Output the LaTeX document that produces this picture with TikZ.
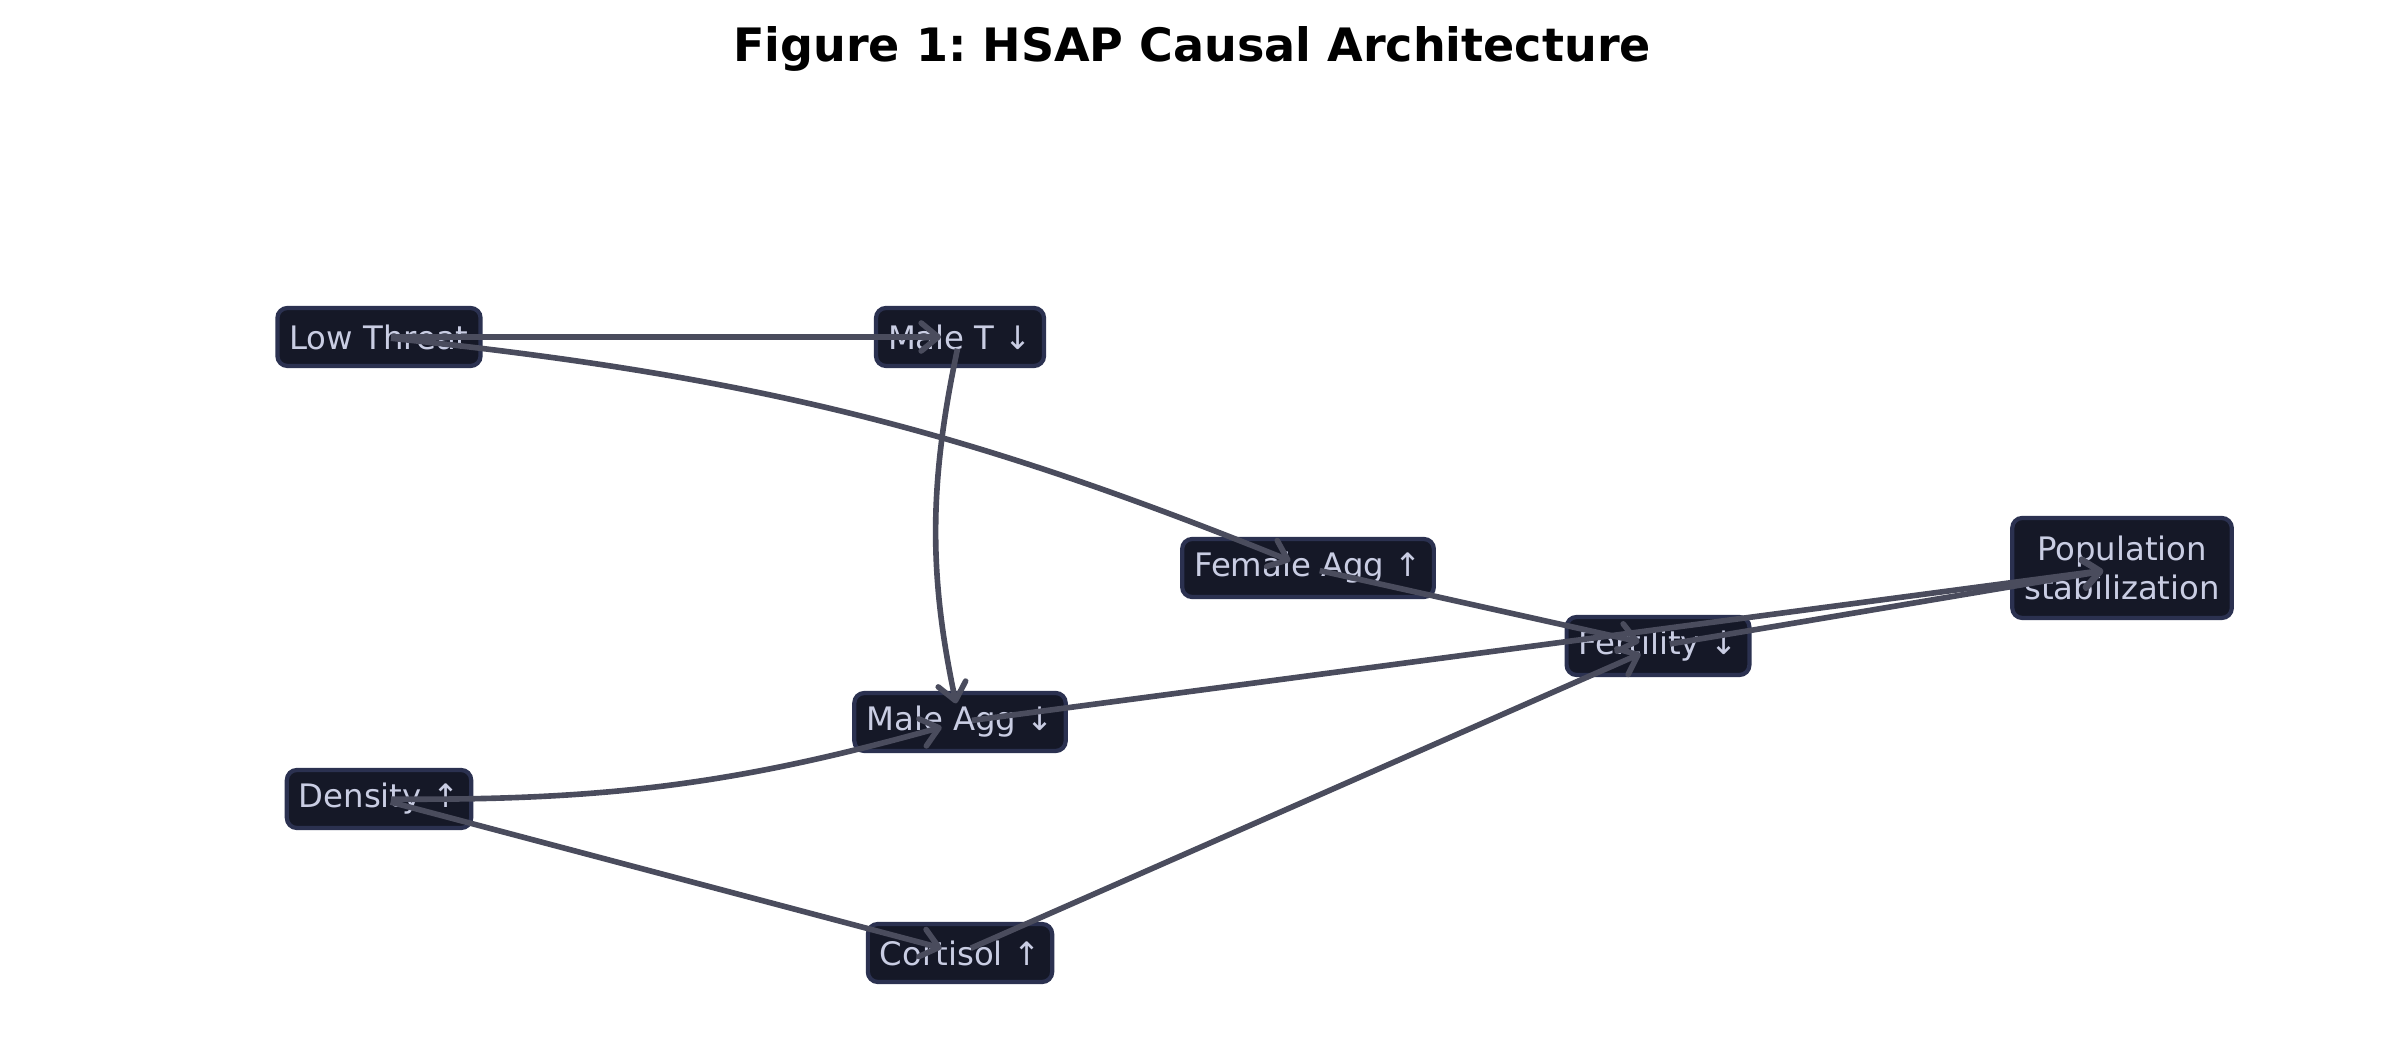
\documentclass[tikz,border=0pt]{standalone}
\usepackage{fontspec}
\setmainfont{DejaVu Sans}
\usetikzlibrary{arrows.meta}
\frenchspacing

\definecolor{boxfill}{HTML}{151827}
\definecolor{boxline}{HTML}{2B3150}
\definecolor{boxtext}{HTML}{C9CDE3}
\definecolor{edgecol}{HTML}{4A4C5D}

\begin{document}
\begin{tikzpicture}[
    box/.style={draw=boxline, line width=1.2pt, fill=boxfill, text=boxtext, rounded corners=0.1cm,
                font=\fontsize{9.2}{11.2}\selectfont, inner xsep=0.12cm, minimum height=0.58cm, align=center},
    edge/.style={draw=edgecol, line width=1.6pt, -{Straight Barb[length=1.7mm,width=2.8mm,round]},
                 shorten <=0.12cm, shorten >=0.19cm}
]
\useasboundingbox (0,0) rectangle (23.85,10.6);

% Title
\node[font=\fontsize{13.1}{15}\selectfont\bfseries] (title) at (11.92, 10.11) {Figure 1: HSAP Causal Architecture};

% Nodes
\node[box] (lowthreat) at (3.79, 7.23) {Low Threat};
\node[box] (malet) at (9.60, 7.23) {Male T ↓};
\node[box] (femagg) at (13.08, 4.92) {Female Agg ↑};
\node[box] (fert) at (16.58, 4.14) {Fertility ↓};
\node[box, minimum height=1.0cm] (popstab) at (21.22, 4.92) {Population\\stabilization};
\node[box] (maleagg) at (9.60, 3.38) {Male Agg ↓};
\node[box] (dens) at (3.79, 2.61) {Density ↑};
\node[box] (cort) at (9.60, 1.07) {Cortisol ↑};

% Straight arrows
\foreach \i/\j in {lowthreat/malet, dens/cort, cort/fert, femagg/fert,
                   maleagg/popstab, fert/popstab}
    \draw[edge] (\i.center) -- (\j.center);

% Curved arrows
\draw[edge] (lowthreat.center) to[bend left=8] (femagg.center);
\draw[edge] (malet.center) to[bend right=12] (maleagg.center);
\draw[edge] (dens.center) to[bend right=8] (maleagg.center);

\end{tikzpicture}
\end{document}
